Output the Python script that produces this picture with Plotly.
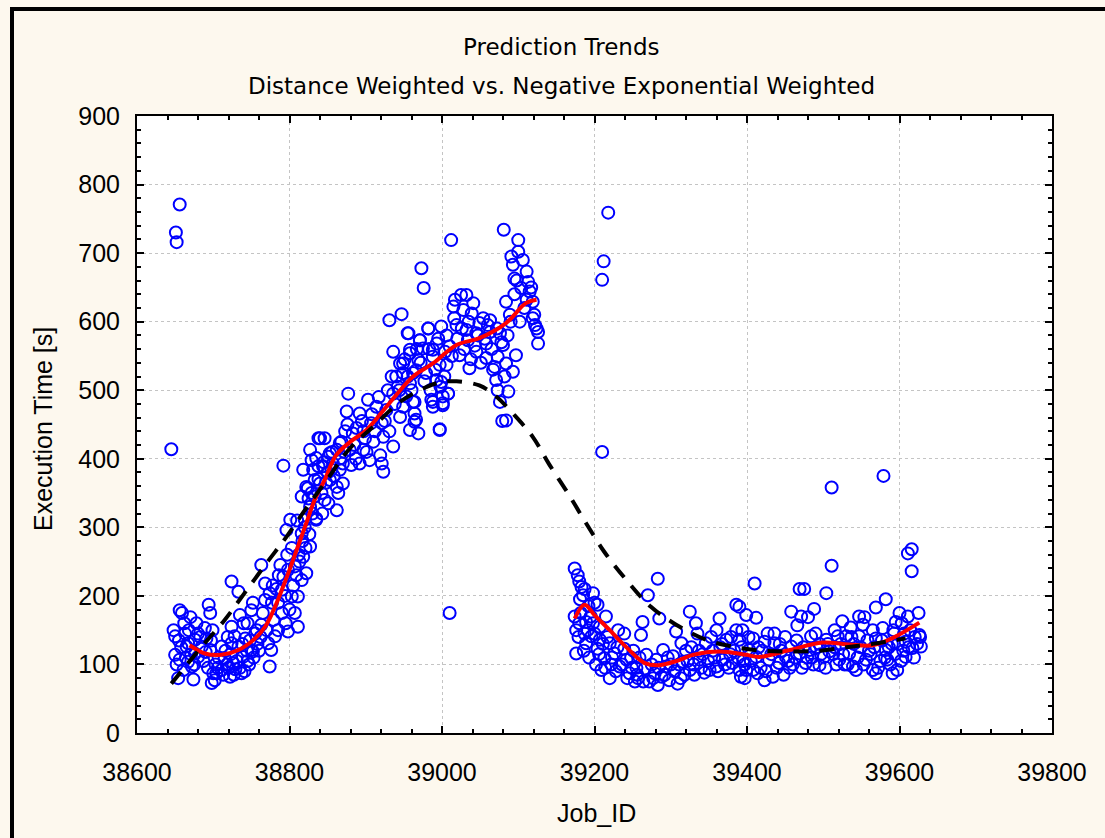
import plotly.graph_objects as go

# ---------------- data ----------------
job_id = [
    38651, 38652, 38656, 38645,
    38792, 38838, 38846, 38827, 38818, 38829, 38838, 38851, 38822, 38825, 38833, 38842, 38855, 38851, 38835, 38801,
    38796, 38816, 38827, 38818, 38807, 38822, 38816, 38798, 38792, 38763, 38724, 38733, 38768, 38774, 38768, 38790,
    38803, 38811, 38807, 38811, 38798, 38790, 38779, 38763, 38781, 38772, 38776, 38755, 38735, 38750, 38724, 38728,
    38742, 38733, 38750, 38739, 38752, 38774, 38726, 38737, 38722, 38711, 38702, 38698, 38704, 38715, 38711, 38724,
    38656, 38659, 38670, 38694, 38696, 38648, 38650, 38663, 38676, 38691, 38680, 38650, 38656, 38667, 38680, 38661,
    38672, 38654, 38674, 38685, 38665, 38676, 38696, 38667, 38689, 38700,
    38706, 38718, 38729, 38745, 38758, 38762, 38745, 38785, 38795, 38800, 38785, 38812, 38803, 38820, 38830, 38843,
    38848, 38858, 38864, 38866,
    38973, 38976, 38931, 38947, 38955, 38982, 38936, 38958, 38971, 38945, 38969, 38988, 38997, 39004, 38934, 38949,
    38962, 38942, 38958, 38977, 38993, 38936, 38953, 38962, 38986, 39001, 39008, 38988, 39001, 38997, 38877, 38875,
    38903, 38914, 38892, 38927, 38921, 38945, 38949, 38964, 38969, 38907, 38897, 38931, 38883, 38873, 38910, 38923,
    38936, 38897, 38879, 38866, 38905, 38921, 38923, 38892, 38881, 38870, 38840, 38853, 38862, 38835, 38857, 38844,
    38831, 38866, 38853, 38840, 38824, 38862, 38870, 38816, 38833, 38846, 38862, 38827, 38835, 38820,
    39081, 39012, 39100, 39100, 39091, 39093, 39111, 39113, 39104, 39115, 39095, 39025, 39032, 39017, 39041, 39015,
    39028, 39039, 39054, 39063, 39084, 39089, 39111, 39119, 39119, 39122, 39126, 39126, 38956, 38982, 38999, 39019,
    39032, 39049, 39045, 39063, 38971, 38993, 39010, 39034, 39058, 39076, 39080, 38958, 38975, 38988, 39023, 39045,
    39058, 39073, 39097, 38949, 38966, 39006, 39036, 39069, 39084, 39093, 38999, 39071, 39008, 38988, 39001, 39073,
    39087, 39076, 38964, 38964, 38966, 38958, 38997, 39084, 39010,
    39218, 39212, 39210, 39210, 39174, 39178, 39180, 39183, 39185, 39198, 39204, 39174, 39180, 39189, 39198, 39207,
    39215, 39187, 39196, 39207, 39176, 39189, 39204, 39220, 39231, 39239, 39226, 39213, 39239, 39209, 39220, 39233,
    39246, 39253, 39242, 39270, 39283, 39263, 39261, 39285, 39268, 39281, 39266, 39279, 39272, 39283, 39290, 39294,
    39298, 39309, 39307, 39314, 39325, 39333, 39316, 39325, 39335, 39346, 39338, 39351, 39364, 39360, 39373, 39368,
    39360, 39386, 39386, 39399, 39410, 39390, 39381, 39392, 39403, 39408, 39390,
    39222, 39248, 39255, 39275, 39300, 39303, 39320, 39330, 39342, 39355, 39365, 39378, 39395, 39257, 39288, 39318,
    39344,
    39511, 39579, 39611, 39616, 39616, 39511, 39469, 39475, 39504, 39458, 39488, 39471, 39466, 39480, 39582, 39569,
    39600, 39625, 39611, 39412, 39525, 39547, 39554, 39552, 39595, 39390, 39436, 39578, 39515, 39536, 39565, 39547,
    39530, 39490, 39394, 39408, 39423, 39436, 39484, 39504, 39519, 39569, 39593, 39608, 39626, 39628, 39617, 39458,
    39469, 39451, 39442, 39434, 39423, 39399, 39397, 39414, 39477, 39495, 39501, 39521, 39539, 39543, 39556, 39565,
    39569, 39584, 39597, 39591, 39608, 39534, 39508, 39582, 39482, 39429, 39412,
    39445, 39460, 39485, 39515, 39528, 39560, 39575, 39590, 39605, 39620, 39450, 39495, 39540, 39420,
    # denser fill, first block
    38652, 38658, 38662, 38668, 38671, 38675, 38678, 38683, 38687, 38690, 38693, 38697, 38699, 38655, 38664,
    38703, 38707, 38713, 38716, 38720, 38723, 38727, 38731, 38735, 38738, 38741, 38744, 38747, 38753, 38757,
    38760, 38748, 38719, 38740, 38752,
    38765, 38770, 38777, 38783, 38786, 38794, 38797, 38805, 38809, 38813, 38817, 38821, 38826, 38829, 38810,
    38788, 38778,
    38838, 38845, 38850, 38856, 38868, 38872, 38876, 38885, 38888, 38895, 38899, 38908, 38912, 38917, 38925,
    38929, 38938, 38940, 38944, 38951, 38955, 38960, 38967, 38972, 38979, 38983, 38985, 38991, 38995, 38998,
    38919, 38887, 38901,
    39003, 39006, 39013, 39016, 39020, 39026, 39029, 39035, 39038, 39043, 39047, 39051, 39056, 39060, 39065,
    39067, 39072, 39078, 39082, 39086, 39090, 39095, 39098, 39102, 39106, 39108, 39117, 39121, 39124, 39079,
    # denser fill, second block
    39176, 39179, 39182, 39186, 39191, 39193, 39195, 39200, 39202, 39206, 39211, 39214, 39217, 39223, 39228,
    39230, 39236, 39243, 39249, 39251, 39256, 39259, 39200, 39192, 39187, 39181,
    39264, 39277, 39284, 39292, 39296, 39305, 39311, 39313, 39322, 39327, 39331, 39337, 39340, 39349, 39353,
    39357, 39362, 39367, 39371, 39376, 39379, 39383, 39388, 39393, 39397, 39402, 39405, 39415, 39418, 39425,
    39427, 39432, 39439, 39443, 39448, 39454, 39456, 39463, 39465, 39472, 39474, 39479, 39487, 39491, 39497,
    39503, 39506, 39513, 39517, 39523, 39526, 39532, 39537, 39545, 39549, 39553, 39558, 39562, 39567, 39572,
    39577, 39581, 39586, 39588, 39594, 39598, 39602, 39606, 39612, 39614, 39619, 39623, 39627, 39603, 39592,
]
exec_time = [
    730, 716, 771, 414,
    390, 430, 430, 413, 384, 398, 389, 403, 359, 342, 369, 350, 384, 335, 311, 311,
    296, 291, 272, 257, 243, 233, 223, 238, 228, 245, 221, 206, 218, 204, 194, 209,
    199, 199, 175, 155, 148, 175, 165, 158, 141, 131, 121, 145, 172, 179, 155, 141,
    138, 126, 121, 111, 119, 97, 102, 87, 82, 92, 77, 73, 87, 109, 126, 131,
    179, 175, 169, 187, 175, 150, 141, 145, 136, 138, 145, 114, 107, 104, 111, 92,
    97, 80, 78, 126, 126, 116, 121, 131, 153, 87,
    95, 100, 93, 105, 130, 140, 160, 150, 160, 180, 190, 260, 270, 300, 320, 320,
    365, 375, 350, 400,
    678, 649, 602, 611, 583, 590, 556, 559, 573, 539, 544, 559, 537, 556, 520, 525,
    525, 505, 510, 513, 515, 495, 491, 483, 486, 491, 495, 476, 478, 442, 495, 469,
    486, 476, 466, 471, 452, 461, 476, 454, 437, 452, 440, 440, 437, 440, 425, 432,
    418, 413, 413, 423, 398, 393, 381, 393, 391, 393, 430, 408, 413, 401, 393, 389,
    384, 384, 369, 364, 357, 359, 364, 345, 345, 340, 325, 330, 313, 311,
    734, 719, 719, 702, 695, 683, 673, 658, 649, 644, 663, 639, 639, 632, 627, 622,
    617, 612, 605, 602, 629, 610, 632, 629, 605, 595, 585, 568, 583, 590, 593, 595,
    588, 598, 583, 585, 573, 568, 564, 573, 568, 583, 566, 554, 561, 549, 551, 556,
    547, 549, 551, 539, 529, 537, 532, 534, 539, 527, 512, 515, 495, 483, 481, 500,
    498, 483, 483, 466, 457, 442, 443, 456, 175,
    759, 688, 661, 410, 240, 230, 221, 213, 201, 204, 187, 170, 160, 162, 160, 155,
    170, 145, 141, 136, 116, 131, 123, 131, 150, 145, 116, 109, 123, 92, 80, 97,
    87, 75, 107, 201, 225, 162, 143, 167, 114, 107, 94, 87, 75, 70, 121, 97,
    77, 72, 148, 131, 177, 160, 104, 92, 145, 131, 107, 92, 167, 150, 136, 107,
    97, 187, 150, 172, 218, 136, 102, 82, 121, 92, 92,
    100, 110, 95, 100, 100, 112, 120, 100, 115, 120, 125, 115, 105, 80, 82, 85,
    88,
    358, 375, 262, 268, 236, 244, 210, 210, 204, 177, 181, 170, 157, 169, 195, 183,
    175, 175, 170, 168, 163, 170, 169, 158, 162, 184, 145, 153, 150, 154, 150, 141,
    141, 145, 150, 138, 133, 131, 141, 136, 141, 138, 145, 133, 143, 126, 124, 126,
    116, 111, 102, 82, 77, 92, 80, 87, 102, 99, 111, 107, 97, 92, 107, 92,
    87, 107, 92, 87, 111, 116, 119, 121, 121, 107, 111,
    120, 100, 110, 125, 100, 120, 105, 130, 120, 140, 140, 130, 130, 120,
    # denser fill, first block
    100, 125, 160, 150, 115, 100, 160, 140, 105, 118, 95, 135, 150, 135, 110,
    100, 110, 85, 120, 95, 115, 85, 105, 95, 130, 90, 120, 100, 110, 150,
    120, 135, 140, 160, 190,
    175, 150, 190, 210, 230, 200, 260, 215, 230, 250, 280, 270, 290, 350, 310,
    245, 215,
    370, 395, 380, 410, 425, 410, 450, 420, 445, 455, 430, 465, 440, 490, 455,
    500, 480, 520, 500, 545, 520, 500, 560, 540, 525, 560, 500, 530, 575, 505,
    405, 400, 410,
    520, 580, 550, 605, 575, 590, 560, 600, 545, 565, 580, 540, 575, 595, 560,
    530, 590, 570, 520, 580, 600, 640, 660, 600, 690, 620, 650, 610, 590, 455,
    # denser fill, second block
    150, 140, 175, 120, 150, 110, 170, 145, 100, 115, 130, 95, 140, 110, 90,
    125, 100, 80, 95, 120, 85, 110, 190, 185, 210, 195,
    75, 80, 95, 85, 110, 90, 100, 80, 105, 125, 85, 120, 95, 105, 140,
    110, 90, 130, 100, 95, 140, 120, 110, 125, 100, 140, 105, 125, 95, 90,
    145, 115, 95, 130, 85, 105, 95, 110, 135, 95, 125, 110, 100, 125, 115,
    95, 130, 115, 100, 130, 115, 100, 140, 110, 125, 100, 135, 115, 125, 95,
    135, 110, 125, 100, 115, 130, 105, 145, 125, 150, 110, 130, 140, 160, 150,
]

# Negative exponential weighted trend (red, two pieces separated by a gap)
red_x = [38669, 38689, 38711, 38733, 38755, 38768, 38779, 38790, 38800, 38811, 38822, 38833, 38846, 38861,
         38880, 38901, 38931, 38962, 38988, 39019, 39049, 39084, 39110, 39124,
         None,
         39174, 39187, 39200, 39220, 39241, 39266, 39285, 39310, 39329, 39364, 39399, 39416, 39456, 39499,
         39534, 39565, 39590, 39626]
red_y = [128, 116, 114, 121, 138, 155, 179, 209, 238, 272, 306, 340, 369, 405,
         425, 442, 481, 520, 539, 566, 576, 598, 627, 632,
         None,
         167, 187, 172, 150, 126, 102, 99, 106, 114, 119, 114, 111, 121, 132,
         129, 128, 138, 161]

# Distance weighted trend (black dashed)
dash_x = [38645, 38685, 38715, 38741, 38770, 38796, 38822, 38849, 38879, 38910, 38945, 38980, 39000, 39019,
          39049, 39070, 39093, 39119, 39140, 39165, 39189, 39213, 39242, 39274, 39307, 39346, 39381, 39420,
          39456, 39495, 39530, 39565, 39608]
dash_y = [72, 126, 165, 204, 248, 286, 328, 369, 415, 447, 483, 505, 512, 513,
          507, 492, 466, 432, 393, 350, 306, 264, 223, 184, 158, 136, 126, 120,
          119, 120, 125, 130, 138]

x_ticks = [38600, 38800, 39000, 39200, 39400, 39600, 39800]
y_ticks = [0, 100, 200, 300, 400, 500, 600, 700, 800, 900]

title_1 = "Prediction Trends"
title_2 = "Distance Weighted vs. Negative Exponential Weighted"
x_title = "Job_ID"
y_title = "Execution Time [s]"

# ---------------- figure ----------------
W, H = 1105, 838
ML, MR, MT, MB = 137, 53, 116, 105
PW, PH = W - ML - MR, H - MT - MB


def px_x(p):
    return (p - ML) / PW


def px_y(p):
    return (H - MB - p) / PH


BG = "#FDF8EE"
FONT = "Liberation Sans, Arial, sans-serif"
TFONT = "DejaVu Sans, Verdana, sans-serif"

fig = go.Figure()
fig.add_trace(go.Scatter(
    x=job_id, y=exec_time, mode="markers",
    marker=dict(symbol="circle-open", size=12, color="#0000FF", line=dict(width=2, color="#0000FF")),
    showlegend=False, hoverinfo="x+y"))
fig.add_trace(go.Scatter(
    x=red_x, y=red_y, mode="lines", connectgaps=False,
    line=dict(color="#FF0000", width=4, shape="spline", smoothing=1.0),
    showlegend=False))
fig.add_trace(go.Scatter(
    x=dash_x, y=dash_y, mode="lines",
    line=dict(color="#000000", width=4, dash="15px,11px", shape="spline", smoothing=1.0),
    showlegend=False))

axis_common = dict(
    showline=True, linecolor="black", linewidth=2, mirror="ticks",
    ticks="inside", ticklen=7, tickwidth=1.5, tickcolor="black",
    showgrid=True, gridcolor="#C4C4C4", griddash="dot", gridwidth=1,
    zeroline=False,
    tickfont=dict(family=FONT, size=25, color="black"),
)

fig.update_xaxes(
    range=[38600, 39800], tickmode="array", tickvals=x_ticks,
    ticktext=[str(v) for v in x_ticks],
    minor=dict(dtick=40, tick0=38600, ticks="inside", ticklen=4, tickwidth=1.5, tickcolor="black", showgrid=False),
    ticklabelstandoff=16,
    **axis_common)
fig.update_yaxes(
    range=[0, 900], tickmode="array", tickvals=y_ticks,
    ticktext=[str(v) for v in y_ticks],
    minor=dict(dtick=20, tick0=0, ticks="inside", ticklen=4, tickwidth=1.5, tickcolor="black", showgrid=False),
    ticklabelstandoff=10,
    **axis_common)

annotations = [
    dict(text=title_1, x=px_x(561), y=px_y(47), xref="paper", yref="paper",
         xanchor="center", yanchor="middle", showarrow=False,
         font=dict(family=TFONT, size=23, color="black")),
    dict(text=title_2, x=px_x(561), y=px_y(86), xref="paper", yref="paper",
         xanchor="center", yanchor="middle", showarrow=False,
         font=dict(family=TFONT, size=23, color="black")),
    dict(text=x_title, x=px_x(596), y=px_y(813), xref="paper", yref="paper",
         xanchor="center", yanchor="middle", showarrow=False,
         font=dict(family=FONT, size=25, color="black")),
    dict(text=y_title, x=px_x(43), y=px_y(429), xref="paper", yref="paper",
         xanchor="center", yanchor="middle", showarrow=False, textangle=-90,
         font=dict(family=FONT, size=25, color="black")),
]

shapes = [
    dict(type="line", xref="paper", yref="paper", x0=px_x(12), x1=px_x(12), y0=px_y(7), y1=px_y(850),
         line=dict(color="black", width=4)),
    dict(type="line", xref="paper", yref="paper", x0=px_x(10), x1=px_x(1120), y0=px_y(9), y1=px_y(9),
         line=dict(color="black", width=4)),
]

fig.update_layout(
    width=W, height=H,
    margin=dict(l=ML, r=MR, t=MT, b=MB, pad=0),
    paper_bgcolor=BG, plot_bgcolor="white",
    annotations=annotations, shapes=shapes,
    showlegend=False,
)

fig.write_html(
    "out.html",
    config={"displayModeBar": False},
    post_script=(
        "document.documentElement.style.overflow='hidden';"
        "document.body.style.overflow='hidden';"
        "document.body.style.margin='0px';"
        "document.body.style.background='#FDF8EE';"
    ),
)
